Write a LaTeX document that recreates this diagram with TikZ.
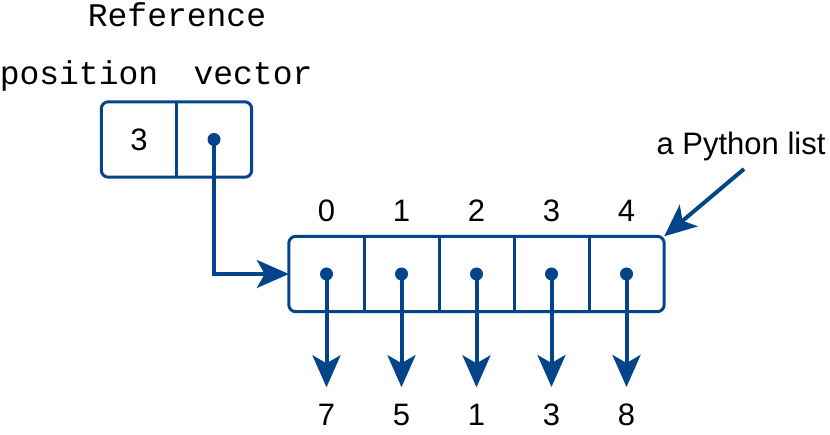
\documentclass[tikz,border=0pt]{standalone}
\usepackage{fontspec}
\setmainfont{Liberation Sans}
\setmonofont{Liberation Mono}
\usetikzlibrary{arrows.meta,positioning}
\definecolor{listblue}{RGB}{4,68,138}
\tikzset{cell/.style={minimum width=75pt, minimum height=75pt, inner sep=0pt},
frame/.style={draw=listblue, line width=3pt, rounded corners=7pt},
divider/.style={draw=listblue, line width=3pt},
ptr/.style={draw=listblue, line width=4pt, -{Stealth[length=32pt,width=28pt,inset=8pt]}},
num/.style={font=\fontsize{31}{36}\selectfont, inner sep=0pt},
val/.style={num, outer ysep=17pt},
word/.style={font=\ttfamily\fontsize{33}{38}\selectfont, anchor=base, inner sep=0pt}
}

\begin{document}
\begin{tikzpicture}[x=1pt, y=-1pt, node distance=75pt, on grid]
\useasboundingbox (0,0) rectangle (830,435);
% reference labels
\node[word] (refword) at (177,27) {Reference};
\node[word] (posword) at (79,85) {position};
\node[word] (vecword) at (253,85) {vector};

% the reference: position and vector
\node[cell, num, minimum width=75pt, minimum height=75pt] (pos) at (139,139.5) {3};
\node[cell] (vec) [right=of pos] {};
\draw[frame] (pos.north west) rectangle (vec.south east);
\draw[divider] (pos.north east) -- (pos.south east);

% the list
\node[cell] (c0) at (326.5,274) {};
\node[cell] (c1) [right=of c0] {};
\node[cell] (c2) [right=of c1] {};
\node[cell] (c3) [right=of c2] {};
\node[cell] (c4) [right=of c3] {};
\draw[frame] (c0.north west) rectangle (c4.south east);
\foreach \i in {0,...,3}
  \draw[divider] (c\i.north east) -- (c\i.south east);

\draw[ptr] (vec.center) |- (c0.west);
\fill[listblue] (vec) circle (6.5pt);

\foreach \i/\v in {0/7,1/5,2/1,3/3,4/8}{
  \node[num, above=63pt of c\i] (n\i) {\i};
  \node[val, below=141pt of c\i] (v\i) {\v};
  \draw[ptr] (c\i.center) -- (v\i);
  \fill[listblue] (c\i) circle (6.5pt);
}

% callout
\node[num, anchor=base] (pylist) at (741,155) {a Python list};
\coordinate (tail) at (744,169);
\draw[ptr] (tail) -- (c4.north east);
\end{tikzpicture}
\end{document}
